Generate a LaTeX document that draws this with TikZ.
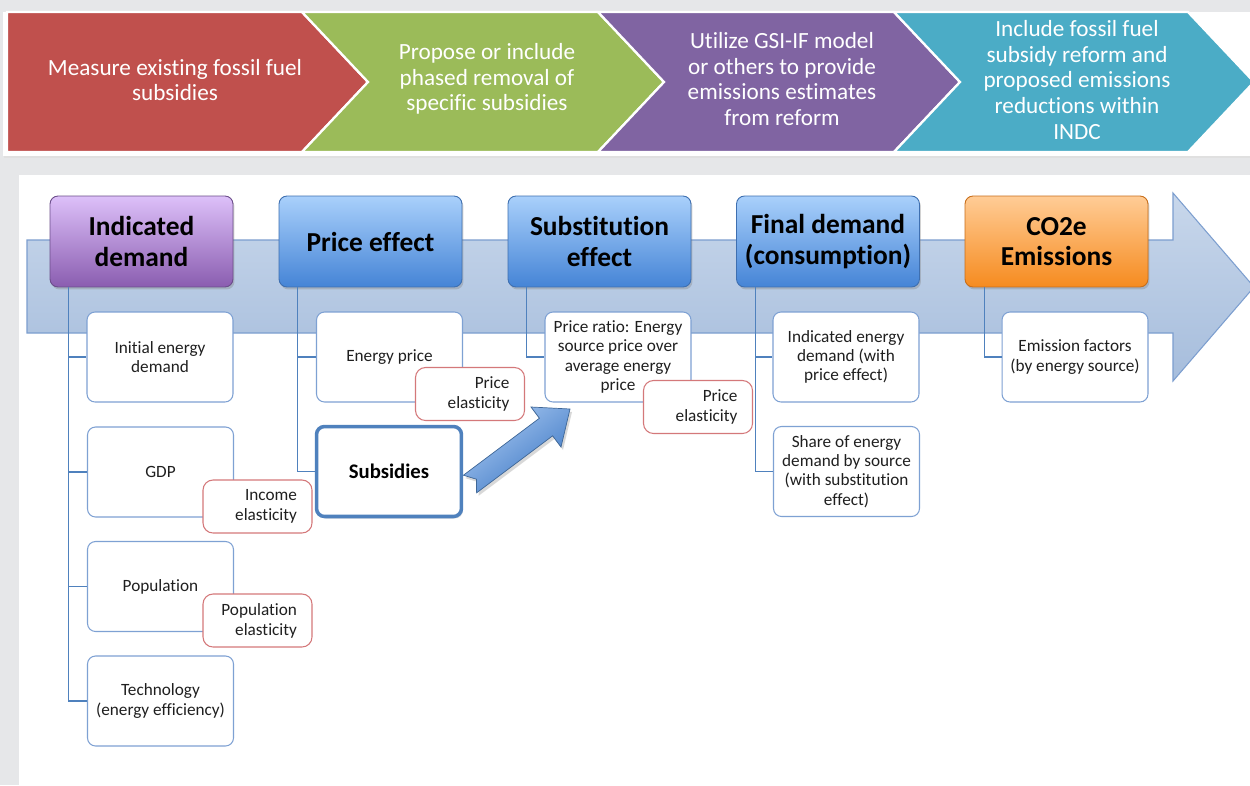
\documentclass[tikz,border=0pt]{standalone}
\usepackage{fontspec}
\setmainfont{Carlito}[Ligatures=NoCommon]
\usetikzlibrary{shadows}
\definecolor{bggray}{HTML}{E6E7E9}
\definecolor{chRed}{HTML}{C0504D}
\definecolor{chGreen}{HTML}{9BBB59}
\definecolor{chPurple}{HTML}{8064A2}
\definecolor{chTeal}{HTML}{4BACC6}
\definecolor{pTop}{HTML}{DDC0F9}
\definecolor{pBot}{HTML}{8A5DB0}
\definecolor{pEdge}{HTML}{6B4D8A}
\definecolor{bTop}{HTML}{A9D0FB}
\definecolor{bBot}{HTML}{4584D6}
\definecolor{bEdge}{HTML}{3E6FB0}
\definecolor{oTop}{HTML}{FFCC96}
\definecolor{oBot}{HTML}{F68B1F}
\definecolor{oEdge}{HTML}{C86E1A}
\definecolor{arrTop}{HTML}{C8D7EB}
\definecolor{arrBot}{HTML}{A6BDDC}
\definecolor{arrEdge}{HTML}{7C9ECF}
\definecolor{childBlue}{HTML}{7EA1D3}
\definecolor{elRed}{HTML}{D4787A}
\definecolor{connBlue}{HTML}{4F81BD}
\definecolor{subBlue}{HTML}{4F81BD}
\definecolor{baTop}{HTML}{A8C8F1}
\definecolor{baBot}{HTML}{3C77C4}
\definecolor{txt}{HTML}{1F1F1F}
\begin{document}
\begin{tikzpicture}[x=0.02cm,y=-0.02cm,
  chev/.style={draw=white, line width=1.3pt, line join=miter},
  chevtext/.style={text=white, align=center, font=\fontsize{13.2}{14.6}\selectfont, inner sep=0pt},
  hdr/.style={rounded corners=0.16cm, minimum width=3.66cm, minimum height=1.82cm, align=center,
    font=\fontsize{15.6}{17.2}\selectfont\bfseries, inner sep=0pt, line width=0.5pt,
    drop shadow={opacity=0.35, shadow xshift=0.03cm, shadow yshift=-0.05cm}},
  purplehdr/.style={hdr, top color=pTop, bottom color=pBot, draw=pEdge},
  bluehdr/.style={hdr, top color=bTop, bottom color=bBot, draw=bEdge},
  orangehdr/.style={hdr, top color=oTop, bottom color=oBot, draw=oEdge},
  childbox/.style={draw=childBlue, fill=white, rounded corners=0.16cm, minimum width=2.92cm,
    minimum height=1.8cm, align=center, font=\fontsize{9.8}{11}\selectfont, text=txt,
    inner sep=1pt, line width=0.6pt},
  elast/.style={draw=elRed, fill=white, rounded corners=0.2cm, minimum height=1.06cm,
    text width=1.58cm, inner xsep=0.3cm, inner ysep=1pt, align=right,
    font=\fontsize{9.8}{11.3}\selectfont, text=txt, line width=0.6pt},
  conn/.style={draw=connBlue, line width=0.6pt}
]
\useasboundingbox (0,0) rectangle (1250,785);
\fill[bggray] (0,0) rectangle (1250,785);
\fill[black!12] (4,13) rectangle (1250,158);
\fill[white] (3,12) rectangle (1250,156);
\fill[white] (19,175) rectangle (1250,785);

% top chevrons
\path[chev, fill=chRed] (7,12) -- (302,12) -- (368,82) -- (302,152) -- (7,152) -- cycle;
\path[chev, fill=chGreen] (302,12) -- (598,12) -- (664,82) -- (598,152) -- (302,152) -- (368,82) -- cycle;
\path[chev, fill=chPurple] (598,12) -- (894,12) -- (960,82) -- (894,152) -- (598,152) -- (664,82) -- cycle;
\path[chev, fill=chTeal] (894,12) -- (1188,12) -- (1254,82) -- (1188,152) -- (894,152) -- (960,82) -- cycle;
\node[chevtext] (t1) at (175,80) {Measure existing fossil fuel\\subsidies};
\node[chevtext] (t2) at (487,79) {Propose or include\\phased removal of\\specific subsidies};
\node[chevtext] (t3) at (782,79) {Utilize GSI-IF model\\or others to provide\\emissions estimates\\from reform};
\node[chevtext] (t4) at (1077,80) {Include fossil fuel\\subsidy reform and\\proposed emissions\\reductions within\\INDC};

% big arrow
\path[draw=arrEdge, line width=0.6pt, top color=arrTop, bottom color=arrBot]
  (27,240) -- (1173,240) -- (1173,193) -- (1254,287) -- (1173,381) -- (1173,333) -- (27,333) -- cycle;

% headers
\node[purplehdr] (ID) at (141.5,241.5) {Indicated\\demand};
\node[bluehdr] (PE) at (370.5,241.5) {Price effect};
\node[bluehdr] (SE) at (599.5,241.5) {Substitution\\effect};
\node[bluehdr] (FD) at (828,241.5) {Final demand\\(consumption)};
\node[orangehdr] (CO) at (1056.5,241.5) {CO2e\\Emissions};

% child boxes
\node[childbox] (Init) at (160,357) {Initial energy\\demand};
\node[childbox] (GDP) at (160.5,472) {GDP};
\node[childbox] (Pop) at (160.5,586.5) {Population};
\node[childbox] (Tech) at (160.5,701) {Technology\\(energy efficiency)};
\node[childbox] (EP) at (389.5,357) {Energy price};
\node[childbox, draw=subBlue, line width=2pt, minimum width=2.9cm, minimum height=1.8cm,
  font=\fontsize{11.8}{13}\selectfont\bfseries, text=black,
  drop shadow={opacity=0.25, shadow xshift=0.03cm, shadow yshift=-0.04cm}] (Sub) at (389,471.5) {Subsidies};
\node[childbox] (PR) at (618,357) {Price ratio: Energy\\source price over\\average energy\\price};
\node[childbox] (IED) at (846,357) {Indicated energy\\demand (with\\price effect)};
\node[childbox] (Share) at (846.5,471.5) {Share of energy\\demand by source\\(with substitution\\effect)};
\node[childbox] (EF) at (1075,357) {Emission factors\\(by energy source)};

% connectors
\draw[conn] ([xshift=0.37cm]ID.south west) |- (Init.west);
\draw[conn] ([xshift=0.37cm]ID.south west) |- (GDP.west);
\draw[conn] ([xshift=0.37cm]ID.south west) |- (Pop.west);
\draw[conn] ([xshift=0.37cm]ID.south west) |- (Tech.west);
\draw[conn] ([xshift=0.37cm]PE.south west) |- (EP.west);
\draw[conn] ([xshift=0.37cm]PE.south west) |- (Sub.west);
\draw[conn] ([xshift=0.38cm]SE.south west) |- (PR.west);
\draw[conn] ([xshift=0.39cm]FD.south west) |- (IED.west);
\draw[conn] ([xshift=0.39cm]FD.south west) |- (Share.west);
\draw[conn] ([xshift=0.4cm]CO.south west) |- (EF.west);

% elasticity boxes
\node[elast] (IncE) at (257.5,506.5) {Income\\elasticity};
\node[elast] (PopE) at (257.5,620.5) {Population\\elasticity};
\node[elast] (PrE1) at (470,394) {Price\\elasticity};
\node[elast] (PrE2) at (698,407) {Price\\elasticity};

% block arrow from Subsidies toward price ratio
\path[draw=subBlue!80!black, line width=0.4pt, top color=baTop, bottom color=baBot, shading angle=37,
  drop shadow={opacity=0.3, shadow xshift=0.04cm, shadow yshift=-0.06cm}]
  (463.4,475.2) -- (539.4,418.2) -- (531,407) -- (570,409) -- (561,447) -- (552.6,435.8)
  -- (476.6,492.8) -- (476.4,479.2) -- cycle;
\end{tikzpicture}
\end{document}
